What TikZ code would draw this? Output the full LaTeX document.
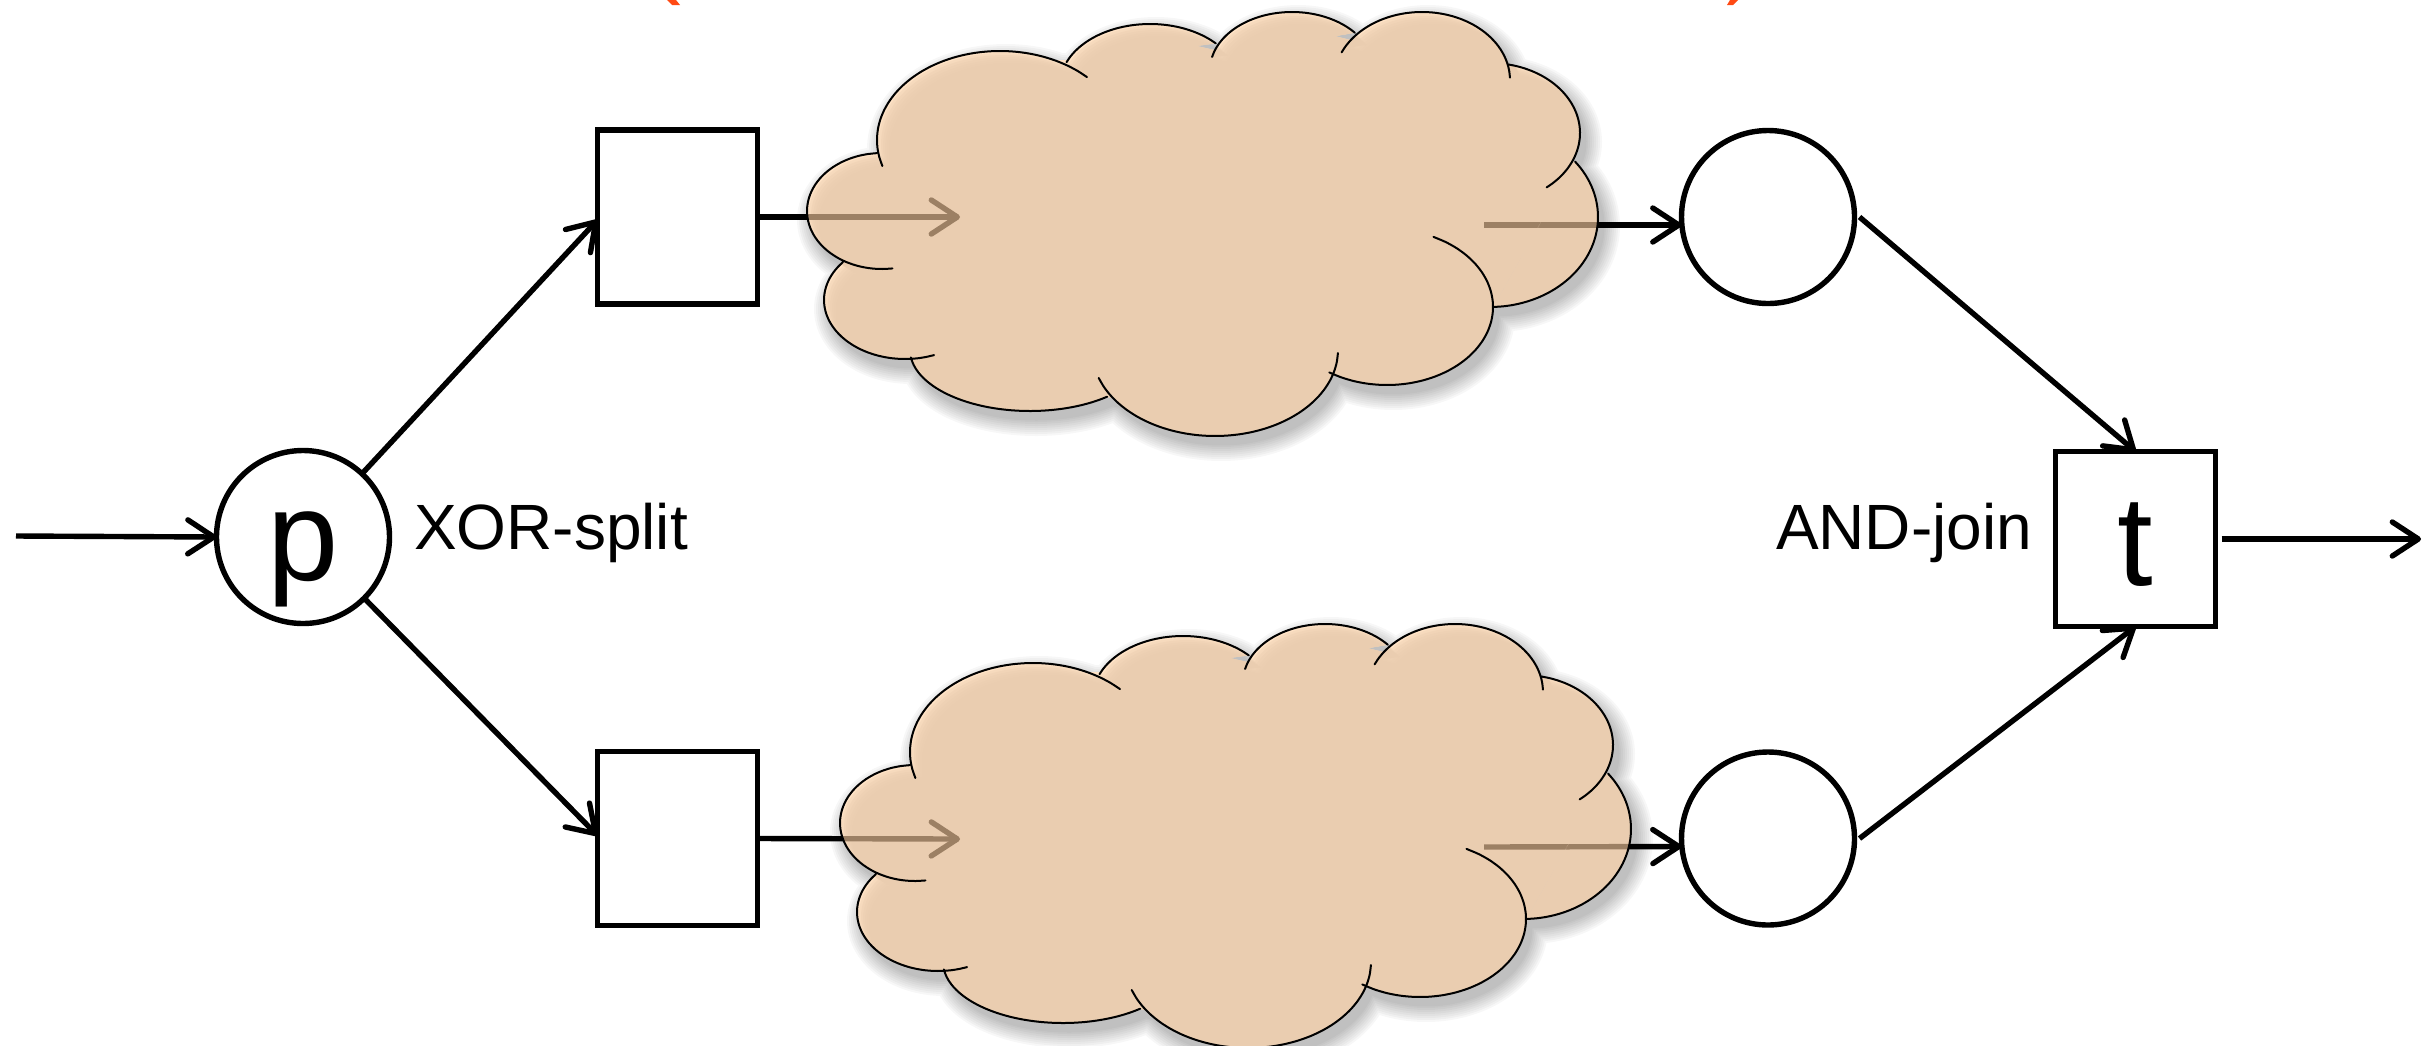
\documentclass[tikz,border=0pt]{standalone}
\usepackage{fontspec}
\setmainfont{Liberation Sans}
\usetikzlibrary{arrows.meta}
\definecolor{cloudmain}{HTML}{EACDB0}
\definecolor{cloudlight}{HTML}{FFE3C6}
\definecolor{cloudarrow}{HTML}{9C8064}
\definecolor{redmark}{HTML}{FF4A14}
\newcommand{\lobe}[6]{plot[domain=#5:#6,samples=26,smooth,variable=\t] ({#1+#3*cos(\t)},{#2-#4*sin(\t)})}
\def\cloudlines{%
 \lobe{882}{211}{75}{58}{94}{278}
 \lobe{905}{300}{81}{59}{140}{291}
 \lobe{1030}{350}{120}{61}{187}{310}
 \lobe{1215}{350}{123}{86}{199}{358}
 \lobe{1387}{307}{106}{78}{237}{424}
 \lobe{1490}{217}{108}{90}{272}{398}
 \lobe{1490}{133}{90}{70}{-51}{78}
 \lobe{1422}{80}{88}{68}{2}{156}
 \lobe{1292}{70}{82}{58}{40}{167}
 \lobe{1150}{85}{90}{61}{43}{158}
 \lobe{1000}{140}{123}{89}{45}{197}
}
\def\cloudbody{%
 \lobe{882}{211}{75}{58}{94}{278} -- cycle
 \lobe{905}{300}{81}{59}{140}{291} -- cycle
 \lobe{1030}{350}{120}{61}{187}{310} -- cycle
 \lobe{1215}{350}{123}{86}{199}{358} -- cycle
 \lobe{1387}{307}{106}{78}{237}{424} -- cycle
 \lobe{1490}{217}{108}{90}{272}{398} -- cycle
 \lobe{1490}{133}{90}{70}{-51}{78} -- cycle
 \lobe{1422}{80}{88}{68}{2}{156} -- cycle
 \lobe{1292}{70}{82}{58}{40}{167} -- cycle
 \lobe{1150}{85}{90}{61}{43}{158} -- cycle
 \lobe{1000}{140}{123}{89}{45}{197} -- cycle
 (877,153) -- (844,262) -- (913,358) -- (1108,397) -- (1212,420) -- (1330,373) -- (1390,370) -- (1493,307) -- (1574,163) -- (1509,66) -- (1420,25) -- (1350,40) -- (1290,25) -- (1214,50) -- (1148,35) -- (1075,60) -- (1000,60) -- (890,120) -- cycle
}
\newcommand{\drawcloud}[4]{%
 \begin{scope}[shift={(#1,#2)}]
  \begin{scope}[shift={(6,9)}]
   \foreach \w in {32,28,24,20,16,12,8,4,1} {
    \begin{scope}[transparency group,opacity=0.03]
     \filldraw[black,line width=\w pt,line join=round] \cloudbody;
    \end{scope}}
  \end{scope}
  \fill[cloudlight] \cloudbody;
  \begin{scope}
   \clip \cloudbody;
   \foreach \s in {10,8,6,4,2} {\fill[cloudmain,opacity=0.4,shift={(\s,\s)}] \cloudbody;}
   \fill[cloudmain,shift={(12,12)}] \cloudbody;
   \draw[cloudarrow,link] (#3.east) -- (#4);
  \end{scope}
 \end{scope}}
\tikzset{
 link/.style={line width=5.4pt,-{Straight Barb[round,length=26pt,width=34pt,line width=5.4pt]}},
 plainend/.style={line width=5.4pt},
 place/.style={draw=black,fill=white,circle,line width=5.4pt,minimum size=173pt,inner sep=0pt,outer sep=0pt},
 trans/.style={draw=black,fill=white,rectangle,line width=5.4pt,minimum width=160pt,minimum height=174pt,inner sep=0pt,outer sep=0pt},
 biglabel/.style={font=\fontsize{128}{130}\selectfont},
 sidelabel/.style={font=\fontsize{64}{70}\selectfont,inner sep=0pt,outer sep=0pt,anchor=base west},
}
\begin{document}
\begin{tikzpicture}[x=1pt,y=-1pt]
\useasboundingbox (0,0) rectangle (2432,1045);
\clip (0,0) rectangle (2432,1045);
\fill[redmark] (667,0) -- (676,0) -- (680,5) -- (672,5) -- cycle;
\fill[redmark] (1730,0) -- (1738,0) -- (1733,5) -- (1727,5) -- cycle;
\node[place,biglabel] (p) at (303,537) {\smash{\raisebox{-43pt}{p}}};
\node[trans] (b1) at (677.5,217) {};
\node[trans] (b2) at (677.5,838.5) {};
\node[place] (c1) at (1768,217) {};
\node[place] (c2) at (1768,838.5) {};
\node[trans,biglabel,minimum height=175pt] (t) at (2135.5,539) {\smash{\raisebox{-46pt}{t}}};
\node[sidelabel] (xor) at (414,549) {XOR-split};
\node[sidelabel] (and) at (1776,549) {AND-join};
\coordinate (start) at (16,536);
\coordinate (finish) at (2421,539);
\coordinate (c1in) at (960,217);
\coordinate (c1out) at (1484,225);
\coordinate (c2in) at (960,839);
\coordinate (c2out) at (1484,847);
\draw[link] (start) -- (p.west);
\draw[link] (p.47) -- ([yshift=-3pt]b1.west);
\draw[link] (p.-45) -- ([yshift=3pt]b2.west);
\draw[plainend] (b1.east) -- (c1in);
\draw[plainend] (b2.east) -- (c2in);
\draw[link] (c1out) -- ([yshift=-8pt]c1.west);
\draw[link] (c2out) -- ([yshift=-8pt]c2.west);
\draw[link] ([xshift=5pt]c1.east) -- (t.north);
\draw[link] ([xshift=5pt]c2.east) -- (t.south);
\draw[link] ([xshift=6pt]t.east) -- (finish);
\drawcloud{0}{0}{b1}{c1in}
\drawcloud{33}{612}{b2}{c2in}
\begin{scope}
 \clip \cloudbody;
 \draw[cloudarrow,plainend] (c1out) -- ([yshift=-8pt]c1.west);
\end{scope}
\begin{scope}[shift={(33,612)}]
 \clip \cloudbody;
 \draw[cloudarrow,plainend] (c2out) -- ([yshift=-8pt]c2.west);
\end{scope}
\draw[line width=2pt,black,line cap=round] \cloudlines;
\begin{scope}[shift={(33,612)}]
 \draw[line width=2pt,black,line cap=round] \cloudlines;
\end{scope}
\end{tikzpicture}
\end{document}
